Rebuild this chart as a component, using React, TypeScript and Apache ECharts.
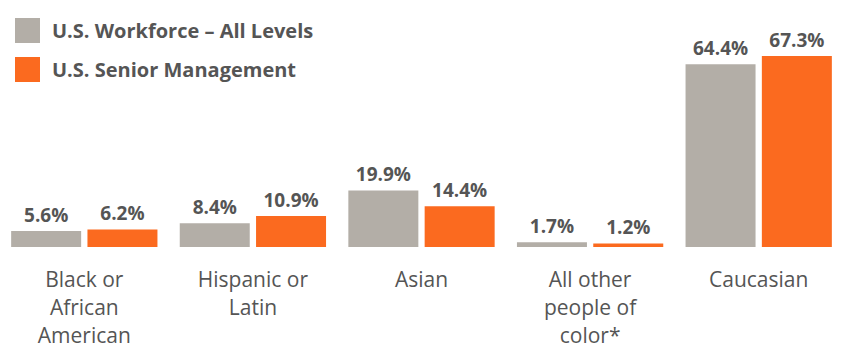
import React, { useEffect, useRef } from "react";
import * as echarts from "echarts";

const categories = ["Black or\nAfrican\nAmerican", "Hispanic or\nLatin", "Asian", "All other\npeople of\ncolor*", "Caucasian"];
const workforce = [5.6, 8.4, 19.9, 1.7, 64.4];
const seniorMgmt = [6.2, 10.9, 14.4, 1.2, 67.3];
const seriesNames = ["U.S. Workforce – All Levels", "U.S. Senior Management"];

const GRAY = "#b3aea7";
const ORANGE = "#fb6a1f";
const TEXT = "#555555";
const FONT = "'Open Sans', 'Noto Sans', sans-serif";

export default function App() {
  const ref = useRef<HTMLDivElement>(null);
  useEffect(() => {
    if (!ref.current) return;
    const chart = echarts.init(ref.current, undefined, { renderer: "svg" });
    const label = {
      show: true,
      position: "top",
      distance: 7,
      formatter: (p: any) => p.value.toFixed(1) + "%",
      color: TEXT,
      fontFamily: FONT,
      fontWeight: "bold",
      fontSize: 19,
    };
    chart.setOption({
      animation: false,
      backgroundColor: "#ffffff",
      legend: {
        orient: "vertical",
        left: 15,
        top: 18,
        padding: 0,
        itemWidth: 25,
        itemHeight: 25,
        itemGap: 14,
        icon: "rect",
        textStyle: { color: TEXT, fontFamily: FONT, fontWeight: "bold", fontSize: 20, padding: [0, 0, 0, 7] },
        data: seriesNames,
      },
      grid: { left: -2, right: 6, top: 20, bottom: 109, containLabel: false },
      xAxis: {
        type: "category",
        data: categories,
        axisLine: { show: false },
        axisTick: { show: false },
        axisLabel: {
          color: TEXT,
          fontFamily: FONT,
          fontSize: 21,
          lineHeight: 28,
          margin: 18,
          interval: 0,
        },
      },
      yAxis: { type: "value", min: 0, max: 80, show: false, splitLine: { show: false } },
      series: [
        {
          name: seriesNames[0],
          type: "bar",
          data: workforce,
          barWidth: 70,
          barGap: "9%",
          itemStyle: { color: GRAY },
          label,
        },
        {
          name: seriesNames[1],
          type: "bar",
          data: seniorMgmt,
          barWidth: 70,
          barGap: "9%",
          itemStyle: { color: ORANGE },
          label,
        },
      ],
    });
    return () => chart.dispose();
  }, []);
  return <div ref={ref} style={{ position: "fixed", left: 0, top: 0, width: 849, height: 356 }} />;
}
